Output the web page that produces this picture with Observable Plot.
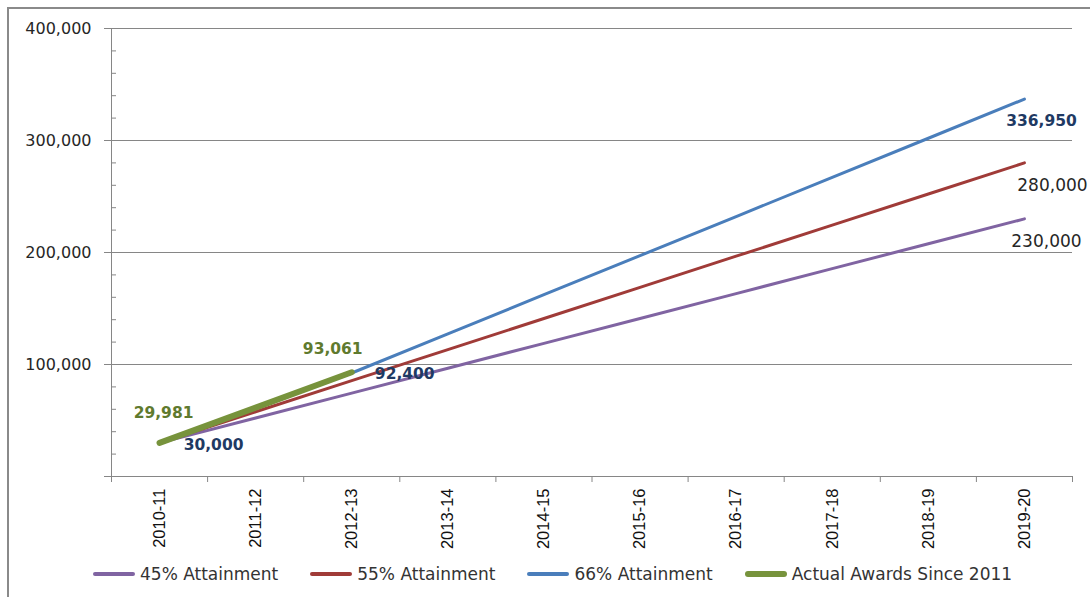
<!DOCTYPE html>
<html>
<head>
<meta charset="utf-8">
<script src="https://cdn.jsdelivr.net/npm/d3@7"></script>
<script src="https://cdn.jsdelivr.net/npm/@observablehq/plot@0.6"></script>
<style>
  html, body { margin: 0; padding: 0; background: #fff; }
  #wrap { position: relative; width: 1090px; height: 597px; overflow: hidden; background: #fff; }
  #border { position: absolute; left: 7px; top: 7px; width: 1200px; height: 700px;
            border-left: 2px solid #8a8a8a; border-top: 2px solid #8a8a8a; pointer-events: none; }
  #legend { position: absolute; left: 93px; top: 553px; height: 42px; display: flex; align-items: center;
            gap: 32px; font-family: "DejaVu Sans", Verdana, sans-serif; font-size: 17px; color: #333; }
  .item { display: flex; align-items: center; gap: 5px; white-space: nowrap; }
  .sw { display: inline-block; width: 42px; border-radius: 3px; }
</style>
</head>
<body>
<div id="wrap">
  <div id="chart"></div>
  <div id="legend"></div>
  <div id="border"></div>
</div>
<script>
// ---- data ----
const categories = ["2010-11","2011-12","2012-13","2013-14","2014-15","2015-16","2016-17","2017-18","2018-19","2019-20"];
const seriesNames = ["45% Attainment","55% Attainment","66% Attainment","Actual Awards Since 2011"];
const att45 = [30000, 52200, 74400, 96700, 118900, 141100, 163300, 185600, 207800, 230000];
const att55 = [30000, 57800, 85600, 113300, 141100, 168900, 196700, 224400, 252200, 280000];
const att66 = [30000, 61200, 92400, 127300, 162300, 197200, 232100, 267100, 302000, 336950];
const actual = [29981, 61500, 93061];
const yMajorTicks = [0, 100000, 200000, 300000, 400000];
const yMinorTicks = [20000, 40000, 60000, 80000, 120000, 140000, 160000, 180000, 220000, 240000, 260000, 280000, 320000, 340000, 360000, 380000];
const seriesColors = ["#8064A2", "#A03B38", "#4A7EBB", "#77933C"];

// ---- build rows ----
const allSeries = [att45, att55, att66, actual];
const rows = [];
allSeries.forEach((vals, s) => vals.forEach((v, i) => rows.push({series: seriesNames[s], i, v})));
const bySeries = name => rows.filter(d => d.series === name);
const fmt = d3.format(",");
const pick = (name, i) => rows.filter(d => d.series === name && d.i === i);

const boundaries = d3.range(categories.length + 1).map(k => k - 0.5);
const axisColor = "#868686";
const labelFont = "DejaVu Sans, Verdana, sans-serif";

const chart = Plot.plot({
  width: 1090,
  height: 555,
  marginLeft: 111,
  marginRight: 18,
  marginTop: 28,
  marginBottom: 79,
  x: {domain: [-0.5, categories.length - 0.5]},
  y: {domain: [0, 400000]},
  color: {domain: seriesNames, range: seriesColors},
  style: {fontFamily: labelFont, background: "transparent", overflow: "visible"},
  marks: [
    Plot.gridY([100000, 200000, 300000, 400000], {stroke: axisColor, strokeOpacity: 1, strokeWidth: 1}),
    Plot.ruleY([0], {stroke: axisColor, strokeWidth: 1}),
    Plot.ruleX([-0.5], {stroke: axisColor, strokeWidth: 1}),
    Plot.axisY({ticks: yMajorTicks, tickSize: 7, tickPadding: 13, label: null,
      tickFormat: d => d === 0 ? "" : fmt(d), fontSize: 16, stroke: axisColor, fill: "#262626"}),
    Plot.axisY({ticks: yMinorTicks, tickSize: -5, tickPadding: 0, label: null,
      tickFormat: () => "", stroke: axisColor}),
    Plot.axisX({ticks: boundaries, tickSize: 6, label: null, tickFormat: () => "", stroke: axisColor}),
    Plot.axisX({ticks: d3.range(categories.length), tickSize: 0, tickPadding: 12, tickRotate: -90, label: null,
      tickFormat: i => categories[i], fontSize: 16.5, fontFamily: "Liberation Sans Narrow, Arial Narrow, sans-serif",
      fill: "#111"}),
    Plot.line(bySeries(seriesNames[0]), {x: "i", y: "v", stroke: "series", strokeWidth: 3}),
    Plot.line(bySeries(seriesNames[1]), {x: "i", y: "v", stroke: "series", strokeWidth: 3}),
    Plot.line(bySeries(seriesNames[2]), {x: "i", y: "v", stroke: "series", strokeWidth: 3}),
    Plot.line(bySeries(seriesNames[3]), {x: "i", y: "v", stroke: "series", strokeWidth: 6, strokeLinecap: "round"}),
    // data labels
    Plot.text(pick(seriesNames[3], 0), {x: "i", y: "v", text: d => fmt(d.v), dx: 4, dy: -30,
      fill: "#5F7A2E", fontWeight: "bold", fontSize: 15.5}),
    Plot.text(pick(seriesNames[3], 2), {x: "i", y: "v", text: d => fmt(d.v), dx: -19, dy: -23,
      fill: "#5F7A2E", fontWeight: "bold", fontSize: 15.5}),
    Plot.text(pick(seriesNames[2], 0), {x: "i", y: "v", text: d => fmt(d.v), dx: 54, dy: 2,
      fill: "#1F3A63", fontWeight: "bold", fontSize: 15.5}),
    Plot.text(pick(seriesNames[2], 2), {x: "i", y: "v", text: d => fmt(d.v), dx: 53, dy: 1.5,
      fill: "#1F3A63", fontWeight: "bold", fontSize: 15.5}),
    Plot.text(pick(seriesNames[2], 9), {x: "i", y: "v", text: d => fmt(d.v), dx: 17, dy: 22,
      fill: "#1F3A63", fontWeight: "bold", fontSize: 15.5}),
    Plot.text(pick(seriesNames[1], 9), {x: "i", y: "v", text: d => fmt(d.v), dx: 28, dy: 23,
      fill: "#262626", fontSize: 17}),
    Plot.text(pick(seriesNames[0], 9), {x: "i", y: "v", text: d => fmt(d.v), dx: 22, dy: 23,
      fill: "#262626", fontSize: 17})
  ]
});
document.getElementById("chart").appendChild(chart);

// legend
const legend = document.getElementById("legend");
seriesNames.forEach((name, k) => {
  const item = document.createElement("div");
  item.className = "item";
  const sw = document.createElement("span");
  sw.className = "sw";
  sw.style.height = (k === 3 ? 6 : 4) + "px";
  sw.style.background = seriesColors[k];
  const t = document.createElement("span");
  t.textContent = name;
  item.appendChild(sw);
  item.appendChild(t);
  legend.appendChild(item);
});
</script>
</body>
</html>
